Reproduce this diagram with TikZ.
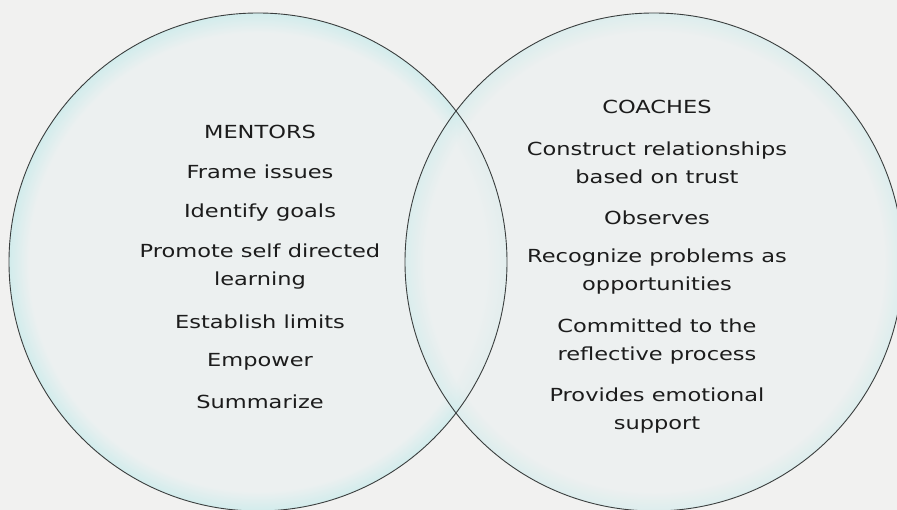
\documentclass[tikz,border=0pt]{standalone}
\usepackage{fontspec}
\setmainfont{DejaVu Sans}[FakeStretch=1.25]

\definecolor{paper}{HTML}{F1F1F0}
\definecolor{ringfill}{HTML}{ECF0F0}
\definecolor{ringglow}{HTML}{D2ECEC}
\definecolor{ringdraw}{HTML}{3A3E3E}
\definecolor{ink}{HTML}{1C1C1C}

\pgfdeclareradialshading{ringglow}{\pgfpoint{0bp}{0bp}}{color(0bp)=(ringfill); color(23bp)=(ringfill); color(25bp)=(ringglow); color(50bp)=(ringglow)}

\begin{document}
\begin{tikzpicture}[
    x=1pt, y=-1pt,
    ring/.style={circle, minimum size=498pt, inner sep=0pt, shading=ringglow},
    ringline/.style={draw=ringdraw, line width=0.9pt},
    item/.style={align=center, text=ink, inner sep=0pt, font=\fontsize{18}{28}\selectfont}
]

% Paper background
\fill[paper] (0,0) rectangle (897,510);
\useasboundingbox (0,0) rectangle (897,510);

% The two circles
\node[ring] (mentors) at (258,262) {};
\node[ring, opacity=0.65] (coaches) at (654,262) {};
\draw[ringline] (mentors.center) circle[radius=249];
\draw[ringline] (coaches.center) circle[radius=249];

% Mentors side
\node[item] (mtitle) at (260,132) {MENTORS};
\node[item] (frame) at (260,172) {Frame issues};
\node[item] (goals) at (260,213) {Identify goals};
\node[item] (selfdir) at (260,267) {Promote self directed\\learning};
\node[item] (limits) at (260,322) {Establish limits};
\node[item] (empower) at (260,362) {Empower};
\node[item] (summ) at (260,402) {Summarize};

% Coaches side
\node[item] (ctitle) at (657,107) {COACHES};
\node[item] (trust) at (657,163) {Construct relationships\\based on trust};
\node[item] (observe) at (657,218) {Observes};
\node[item] (problems) at (657,272) {Recognize problems as\\opportunities};
\node[item] (reflect) at (657,342) {Committed to the\\reflective process};
\node[item] (support) at (657,411) {Provides emotional\\support};

\end{tikzpicture}
\end{document}
